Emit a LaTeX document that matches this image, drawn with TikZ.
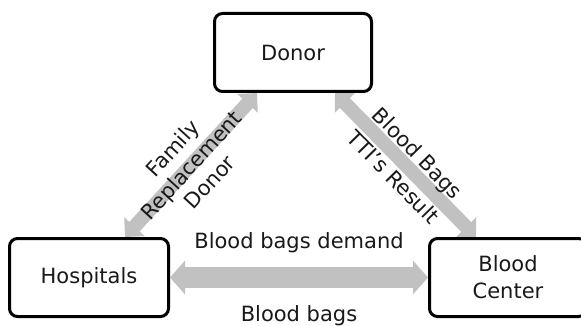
\documentclass[tikz,border=0pt]{standalone}
\usepackage{fontspec}
\setmainfont{DejaVu Sans}
\usetikzlibrary{arrows.meta}
\definecolor{arrowgray}{RGB}{192,193,192}
\definecolor{labelblack}{RGB}{25,25,25}
\tikzset{
  box/.style={draw, line width=3pt, rounded corners=8pt, minimum width=157pt,
    minimum height=78pt, align=center, inner sep=0pt, text=labelblack},
  widearrow/.style={arrowgray, line width=21pt,
    {Triangle[width=33pt,length=15pt]}-{Triangle[width=33pt,length=15pt]}},
  slimarrow/.style={arrowgray, line width=14pt,
    {Triangle[width=27pt,length=14pt]}-{Triangle[width=27pt,length=14pt]}},
  label/.style={text=labelblack, align=center},
}
\begin{document}
\begin{tikzpicture}[x=1pt,y=-1pt,font=\fontsize{21}{25}\selectfont]
      \useasboundingbox (0,0) rectangle (581,326);

      %%%%  boxes
      \node[box] (donor) at (293,52.5) {Donor};
      \node[box, minimum width=159pt] (hosp) at (89,277.5) {Hospitals};
      \node[box] (center) at (508,277.5) {Blood\\[2pt]Center};

      %%%%  arrows
      \draw[widearrow] (hosp.east) -- (center.west)
        node[label, midway, yshift=35pt] (demand) {Blood bags demand}
        node[label, midway, yshift=-38.6pt] (bags) {Blood bags};

      \draw[slimarrow] ([xshift=36pt]hosp.north) -- ([xshift=-36pt]donor.south)
        node[label, midway, sloped] (family) {Family\\Replacement\\Donor};

      \draw[slimarrow] ([xshift=42pt]donor.south) -- ([xshift=-32pt]center.north)
        node[label, midway, sloped] (result) {Blood Bags\\[9pt]TTI's Result};
    \end{tikzpicture}
\end{document}
